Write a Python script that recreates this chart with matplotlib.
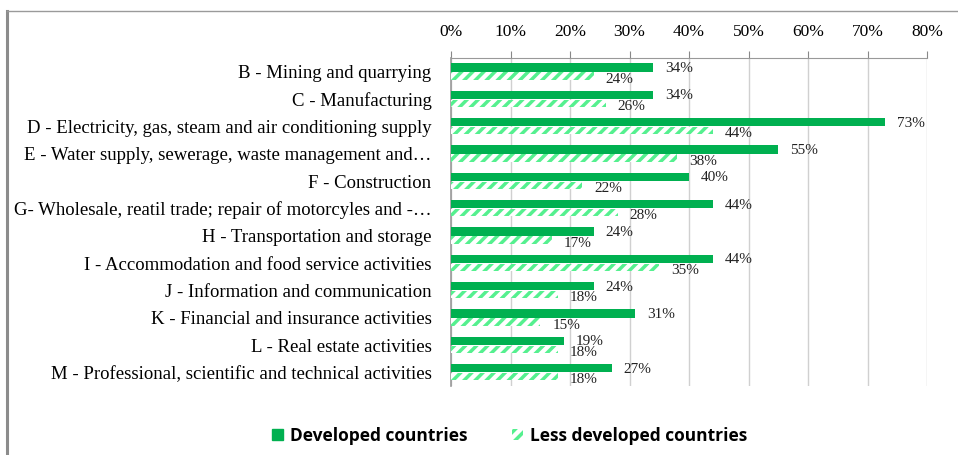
import matplotlib.pyplot as plt
import matplotlib.patches as mpatches
from matplotlib.lines import Line2D
import numpy as np

# sectors (top to bottom)
sectors = [
    "B - Mining and quarrying",
    "C - Manufacturing",
    "D - Electricity, gas, steam and air conditioning supply",
    "E - Water supply, sewerage, waste management and\u2026",
    "F - Construction",
    "G- Wholesale, reatil trade; repair of motorcyles and -\u2026",
    "H - Transportation and storage",
    "I - Accommodation and food service activities",
    "J - Information and communication",
    "K - Financial and insurance activities",
    "L - Real estate activities",
    "M - Professional, scientific and technical activities",
]
developed = [34, 34, 73, 55, 40, 44, 24, 44, 24, 31, 19, 27]
less_developed = [24, 26, 44, 38, 22, 28, 17, 35, 18, 15, 18, 18]
x_ticks = [0, 10, 20, 30, 40, 50, 60, 70, 80]

dark_green = '#00b050'
light_green = '#55f08f'

plt.rcParams['hatch.linewidth'] = 2.5
plt.rcParams['hatch.color'] = light_green

fig = plt.figure(figsize=(9.58, 4.55), dpi=100)
ax = fig.add_axes([451 / 958, 1 - 386 / 455, 476 / 958, 328 / 455])

y = np.arange(len(sectors))
dev = np.array(developed) / 100
less = np.array(less_developed) / 100

ax.barh(y - 0.155, dev, height=0.31, color=dark_green, zorder=3)
ax.barh(y + 0.16, less, height=0.27, color='white', edgecolor=light_green,
        linewidth=0, hatch='///', zorder=3)

# value labels
for i in range(len(sectors)):
    ax.annotate(f"{developed[i]}%", (dev[i], y[i] - 0.12), xytext=(12, 0),
                textcoords='offset pixels', va='center', ha='left',
                family='Liberation Serif', fontsize=11, color='#222222')
    ax.annotate(f"{less_developed[i]}%", (less[i], y[i] + 0.27), xytext=(12, 0),
                textcoords='offset pixels', va='center', ha='left',
                family='Liberation Serif', fontsize=11, color='#222222')

ax.set_xlim(0, 0.8)
ax.set_ylim(len(sectors) - 0.5, -0.5)
ax.set_xticks(np.array(x_ticks) / 100)
ax.set_xticklabels([f"{t}%" for t in x_ticks], family='Liberation Serif', fontsize=12.5)
ax.xaxis.tick_top()
ax.tick_params(axis='x', direction='out', length=5, color='#888888', pad=8)
ax.set_yticks(y)
ax.set_yticklabels(sectors, family='Liberation Serif', fontsize=13.5)
ax.tick_params(axis='y', length=0, pad=14)

ax.grid(axis='x', color='#d0d0d0', linewidth=1, zorder=0)
for s in ['right', 'bottom']:
    ax.spines[s].set_visible(False)
ax.spines['top'].set_color('#999999')
ax.spines['left'].set_color('#999999')
ax.spines['left'].set_linewidth(1.2)

# legend
handles = [
    mpatches.Patch(facecolor=dark_green, edgecolor=dark_green, label='Developed countries'),
    mpatches.Patch(facecolor='white', edgecolor=light_green, linewidth=0, hatch='///',
                   label='Less developed countries'),
]
fig.legend(handles=handles, loc='center', bbox_to_anchor=(0.532, 0.042), ncol=2,
           frameon=False, handlelength=0.6, handleheight=0.6, handletextpad=0.4,
           columnspacing=2.6, prop={'family': 'Open Sans', 'weight': 'bold', 'size': 12.5})

# outer frame (left and top only)
fig.add_artist(Line2D([7 / 958, 7 / 958], [0, 1 - 11 / 455], transform=fig.transFigure,
                      color='#8c8c8c', linewidth=2.2))
fig.add_artist(Line2D([7 / 958, 1], [1 - 11 / 455, 1 - 11 / 455], transform=fig.transFigure,
                      color='#9a9a9a', linewidth=1))

fig.savefig('out.png', dpi=100)
